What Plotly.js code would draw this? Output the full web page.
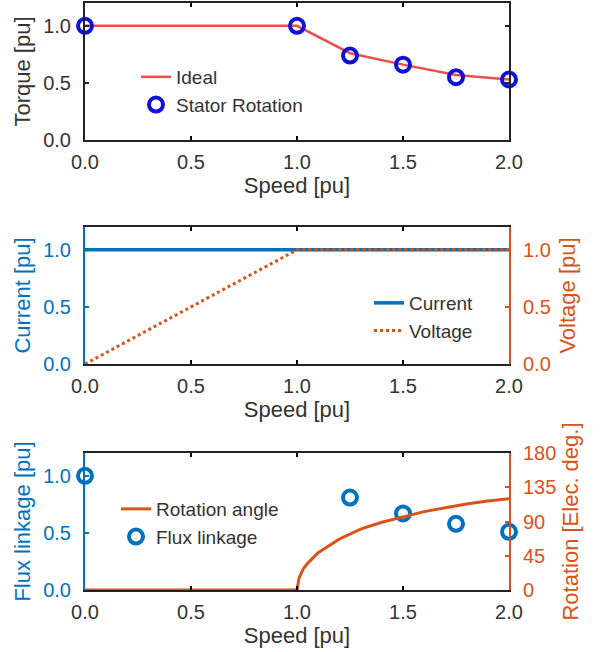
<!DOCTYPE html>
<html>
<head>
<meta charset="utf-8">
<script src="https://cdn.plot.ly/plotly-3.0.1.min.js"></script>
<style>html,body{margin:0;padding:0;background:#fff;}#chart{width:601px;height:652px;}</style>
</head>
<body>
<div id="chart"></div>
<script>
// ---- data ----
const speedTicks = [0, 0.5, 1.0, 1.5, 2.0];
// Panel 1: torque
const idealSpeed = [0, 1.0, 1.25, 1.5, 1.75, 2.0];
const idealTorque = [1.0, 1.0, 0.76, 0.66, 0.57, 0.53];
const statorSpeed = [0, 1.0, 1.25, 1.5, 1.75, 2.0];
const statorTorque = [1.0, 1.0, 0.74, 0.66, 0.55, 0.53];
// Panel 2: current & voltage
const currentSpeed = [0, 2.0];
const currentVal = [1.0, 1.0];
const voltageSpeed = [0, 1.0, 2.0];
const voltageVal = [0, 1.0, 1.0];
// Panel 3: rotation angle & flux linkage
const rotSpeed = [0, 1.0, 1.01, 1.03, 1.05, 1.1, 1.2, 1.3, 1.4, 1.5, 1.6, 1.7, 1.8, 1.9, 2.0];
const rotAngle = [0, 0, 16, 28, 35, 49, 67, 80, 89, 96, 103, 108, 113, 117, 120];
const fluxSpeed = [0, 1.25, 1.5, 1.75, 2.0];
const fluxVal = [1.0, 0.81, 0.67, 0.58, 0.51];

// ---- styles ----
const BLUE = '#0072BD', ORANGE = '#D95319', RED = '#E8514A', MBLUE = '#1010D8', TXT = '#333333';
const FONT = 'Liberation Sans, Arial, sans-serif';
const TFS = 20, AFS = 22, LFS = 19;
const W = 601, H = 652;
const xdom = [85 / W, 509 / W];
const ydom = (top, bot) => [1 - bot / H, 1 - top / H];

function xax(anchor) {
  return {
    anchor: anchor, domain: xdom, range: [0, 2], tickvals: speedTicks, tickformat: '.1f',
    ticks: 'inside', ticklen: 4, tickwidth: 2, tickcolor: '#000', mirror: 'ticks',
    showline: true, linecolor: '#222', linewidth: 2, showgrid: false, zeroline: false,
    tickfont: {family: FONT, size: TFS, color: TXT}, ticklabelstandoff: 3,
    title: {text: 'Speed [pu]', font: {family: FONT, size: AFS, color: TXT}, standoff: 0}
  };
}
function yax(anchor, dom, color, lineColor, title, mirror) {
  return {
    anchor: anchor, domain: dom, range: [0, 1.2], tickvals: [0, 0.5, 1.0], tickformat: '.1f',
    ticks: 'inside', ticklen: 4, tickwidth: 2, tickcolor: lineColor, mirror: mirror,
    showline: true, linecolor: lineColor, linewidth: 2, showgrid: false, zeroline: false,
    tickfont: {family: FONT, size: TFS, color: color}, ticklabelstandoff: 8,
    title: {text: title, font: {family: FONT, size: AFS, color: color}}
  };
}

const traces = [
  {x: idealSpeed, y: idealTorque, xaxis: 'x', yaxis: 'y', mode: 'lines', name: 'Ideal',
   line: {color: RED, width: 2.5}, legend: 'legend'},
  {x: statorSpeed, y: statorTorque, xaxis: 'x', yaxis: 'y', mode: 'markers', name: 'Stator Rotation',
   marker: {symbol: 'circle-open', size: 14, color: MBLUE, line: {width: 4, color: MBLUE}},
   cliponaxis: false, legend: 'legend'},
  {x: currentSpeed, y: currentVal, xaxis: 'x2', yaxis: 'y3', mode: 'lines', name: 'Current',
   line: {color: BLUE, width: 3.5}, legend: 'legend2'},
  {x: voltageSpeed, y: voltageVal, xaxis: 'x2', yaxis: 'y4', mode: 'lines', name: 'Voltage',
   line: {color: ORANGE, width: 3, dash: 'dot'}, legend: 'legend2'},
  {x: rotSpeed, y: rotAngle, xaxis: 'x3', yaxis: 'y6', mode: 'lines', name: 'Rotation angle',
   line: {color: ORANGE, width: 3}, legend: 'legend3'},
  {x: fluxSpeed, y: fluxVal, xaxis: 'x3', yaxis: 'y5', mode: 'markers', name: 'Flux linkage',
   marker: {symbol: 'circle-open', size: 14, color: BLUE, line: {width: 4, color: BLUE}},
   cliponaxis: false, legend: 'legend3'}
];

const legBase = {bgcolor: 'rgba(0,0,0,0)', borderwidth: 0, font: {family: FONT, size: LFS, color: TXT},
  xanchor: 'left', yanchor: 'top', tracegroupgap: 0};

const layout = {
  width: W, height: H, margin: {l: 0, r: 0, t: 0, b: 0},
  paper_bgcolor: '#fff', plot_bgcolor: '#fff', showlegend: true,
  font: {family: FONT, size: TFS, color: TXT},
  xaxis: xax('y'),
  yaxis: yax('x', ydom(3, 140), TXT, '#222', 'Torque [pu]', 'ticks'),
  xaxis2: xax('y3'),
  yaxis3: yax('x2', ydom(227, 364), BLUE, BLUE, 'Current [pu]', false),
  yaxis4: Object.assign(yax('x2', ydom(227, 364), ORANGE, ORANGE, 'Voltage [pu]', false),
    {overlaying: 'y3', side: 'right'}),
  xaxis3: xax('y5'),
  yaxis5: yax('x3', ydom(453, 590), BLUE, BLUE, 'Flux linkage [pu]', false),
  yaxis6: Object.assign(yax('x3', ydom(453, 590), ORANGE, ORANGE, 'Rotation [Elec. deg.]', false),
    {overlaying: 'y5', side: 'right', range: [0, 180], tickvals: [0, 45, 90, 135, 180], tickformat: 'd'}),
  legend: Object.assign({}, legBase, {x: 136 / W, y: 1 - 58 / H}),
  legend2: Object.assign({}, legBase, {x: 369 / W, y: 1 - 284 / H}),
  legend3: Object.assign({}, legBase, {x: 116 / W, y: 1 - 490 / H})
};

Plotly.newPlot('chart', traces, layout, {staticPlot: true, displayModeBar: false});
</script>
</body>
</html>
